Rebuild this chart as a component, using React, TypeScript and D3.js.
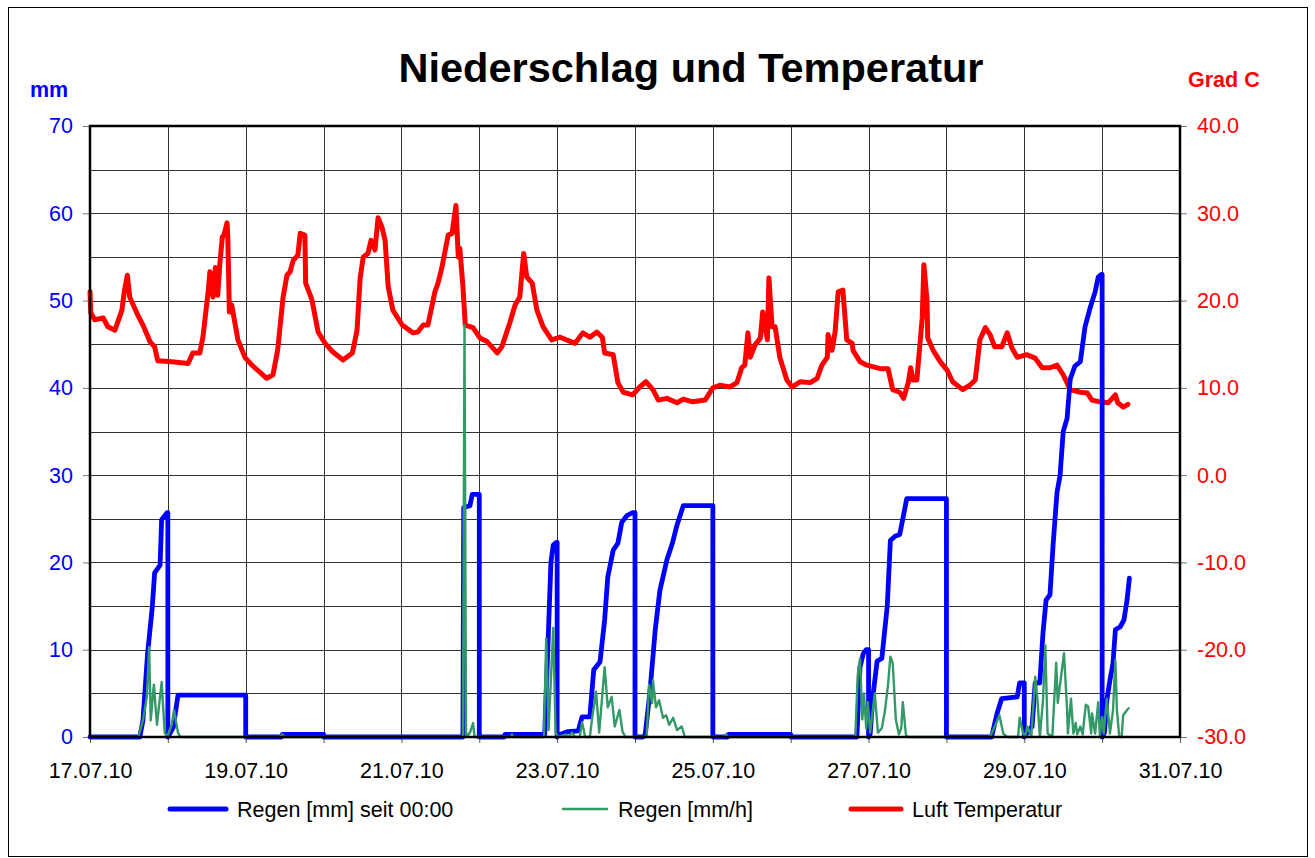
import * as d3 from "d3";
import * as React from "react";

// [Tage seit 17.07.10 00:00, Wert]
type Pt = [number, number];

const dayLabels = [
  "17.07.10", "18.07.10", "19.07.10", "20.07.10", "21.07.10", "22.07.10", "23.07.10", "24.07.10",
  "25.07.10", "26.07.10", "27.07.10", "28.07.10", "29.07.10", "30.07.10", "31.07.10",
];
const mmTicks = [0, 10, 20, 30, 40, 50, 60, 70];
const tempTicks = [-30, -20, -10, 0, 10, 20, 30, 40];

const seriesNames = ["Regen [mm] seit 00:00", "Regen [mm/h]", "Luft Temperatur"];
const seriesColors = ["#0000ff", "#339966", "#ff0000"];

// Regen [mm] seit 00:00 (Tagessumme, Reset um Mitternacht)
const regenSeit0: Pt[] = [
  [0, 0], [0.64, 0], [0.68, 1.9], [0.74, 9.6], [0.8, 14.9], [0.83, 18.8], [0.9, 19.7], [0.92, 24.9], [0.99, 25.7], [1.0, 25.7], [1.0, 0],
  [1.07, 1.1], [1.13, 4.8], [2.0, 4.8], [2.0, 0],
  [2.46, 0], [2.47, 0.3], [3.0, 0.3], [3.0, 0],
  [4.79, 0], [4.8, 26.3], [4.88, 26.5], [4.91, 27.8], [5.0, 27.8], [5.0, 0],
  [5.32, 0], [5.33, 0.3], [5.84, 0.3], [5.88, 10], [5.92, 20], [5.95, 22], [5.99, 22.3], [6.0, 22.3], [6.0, 0],
  [6.01, 0.2], [6.13, 0.6], [6.27, 0.7], [6.32, 2.3], [6.42, 2.3], [6.47, 7.7], [6.55, 8.6], [6.61, 13.4], [6.65, 18.3],
  [6.72, 21.4], [6.78, 22.2], [6.83, 24.6], [6.9, 25.4], [6.97, 25.7], [7.0, 25.7], [7.0, 0],
  [7.1, 0], [7.13, 0.2], [7.19, 5], [7.26, 12.3], [7.32, 16.8], [7.41, 20.3], [7.48, 22.2], [7.54, 24.3], [7.62, 26.5], [8.0, 26.5], [8.0, 0],
  [8.19, 0], [8.2, 0.3], [9.0, 0.3], [9.0, 0],
  [9.85, 0], [9.89, 8], [9.93, 9.5], [9.97, 10], [10.0, 10], [10.0, 0],
  [10.02, 0.3], [10.06, 5], [10.11, 8.7], [10.17, 9], [10.24, 15], [10.28, 22.5], [10.34, 23], [10.4, 23.2], [10.44, 25], [10.49, 27.3], [11.0, 27.3], [11.0, 0],
  [11.58, 0], [11.65, 2.7], [11.71, 4.4], [11.91, 4.6], [11.94, 6.2], [12.0, 6.2], [12.0, 0],
  [12.03, 0.4], [12.1, 1.2], [12.14, 6.2], [12.2, 6.2], [12.24, 11.9], [12.28, 15.7], [12.33, 16.3], [12.37, 22], [12.42, 28], [12.46, 30],
  [12.5, 35], [12.55, 36.5], [12.59, 41], [12.65, 42.5], [12.72, 43], [12.78, 47], [12.84, 49], [12.91, 51], [12.95, 52.7], [12.99, 53], [13.0, 53], [13.0, 0],
  [13.03, 0.5], [13.06, 4.2], [13.1, 6.5], [13.14, 8.5], [13.17, 12.3], [13.23, 12.6], [13.28, 13.4], [13.32, 15.7], [13.35, 18.2],
];

// Regen [mm/h]
const regenProStunde: Pt[] = [
  [0, 0], [0.62, 0], [0.68, 1.9], [0.73, 4.6], [0.76, 10.3], [0.78, 1.9], [0.82, 6], [0.86, 1.4], [0.92, 6.3], [0.96, 0.5], [0.99, 0],
  [1.05, 1.4], [1.08, 3.1], [1.13, 0.5], [1.16, 0],
  [2.43, 0], [2.47, 0.3], [2.5, 0],
  [4.79, 0], [4.81, 47.2], [4.83, 0], [4.86, 0.3], [4.88, 0.5], [4.92, 1.6], [4.94, 0],
  [5.4, 0], [5.42, 0.3], [5.44, 0],
  [5.83, 0], [5.86, 11.3], [5.89, 0.8], [5.95, 12.5], [5.98, 0.5], [6.01, 0],
  [6.12, 0.3], [6.15, 0], [6.19, 0.5], [6.23, 0], [6.29, 0], [6.32, 1.7], [6.36, 0], [6.42, 0], [6.45, 2.2], [6.5, 5.2], [6.54, 0.5],
  [6.61, 8.0], [6.65, 3.4], [6.7, 4.6], [6.74, 1.2], [6.8, 3.1], [6.84, 0.6], [6.88, 0],
  [7.15, 0], [7.18, 6.0], [7.22, 3.9], [7.23, 6.5], [7.27, 3.4], [7.31, 4.2], [7.36, 2.2], [7.4, 2.5], [7.44, 1.4], [7.49, 2.2],
  [7.54, 0.8], [7.6, 1.2], [7.64, 0],
  [8.15, 0], [8.17, 0.3], [8.2, 0],
  [9.83, 0], [9.86, 7], [9.89, 9], [9.92, 2], [9.94, 5], [9.97, 1], [9.99, 4], [10.02, 0.5], [10.04, 2], [10.08, 5], [10.12, 0.5],
  [10.17, 1], [10.21, 3], [10.25, 6], [10.28, 9.2], [10.31, 8.5], [10.35, 2], [10.39, 0.3], [10.42, 1], [10.44, 4], [10.48, 0.2], [10.51, 0],
  [11.56, 0], [11.62, 1.2], [11.68, 2.5], [11.73, 0.4], [11.78, 0], [11.92, 0], [11.94, 2.2], [11.98, 0.6], [12.01, 0], [12.04, 1.2],
  [12.09, 0], [12.14, 6.9], [12.17, 4.2], [12.2, 0], [12.24, 4.2], [12.27, 10.5], [12.3, 0.4], [12.36, 0], [12.41, 8.5], [12.43, 3.9],
  [12.51, 9.6], [12.55, 3.1], [12.56, 0.4], [12.6, 4.4], [12.63, 0.4], [12.66, 1.6], [12.68, 0.3], [12.72, 1.2], [12.75, 0.3],
  [12.79, 3.7], [12.82, 3.5], [12.86, 0.4], [12.87, 2.7], [12.91, 0.4], [12.95, 4.0], [12.97, 0.2], [13.0, 2.3], [13.02, 0.4],
  [13.06, 4.4], [13.1, 0.4], [13.14, 3.1], [13.17, 8.8], [13.19, 3.1], [13.22, 0], [13.25, 0], [13.27, 2.5], [13.32, 3.1], [13.34, 3.3],
];

// Luft Temperatur [Grad C]
const luftTemperatur: Pt[] = [
  [0, 21.0], [0.01, 18.6], [0.06, 17.8], [0.17, 18.0], [0.23, 17.0], [0.32, 16.6], [0.41, 18.9], [0.44, 21.0], [0.48, 22.9],
  [0.51, 20.4], [0.6, 18.6], [0.68, 17.2], [0.77, 15.3], [0.83, 14.7], [0.87, 13.1], [1.05, 13.0], [1.26, 12.8], [1.32, 14.0],
  [1.41, 14.0], [1.45, 15.8], [1.52, 21.2], [1.54, 23.3], [1.58, 20.4], [1.61, 23.8], [1.64, 20.6], [1.67, 24.4], [1.7, 27.3],
  [1.72, 27.5], [1.76, 28.9], [1.77, 27.3], [1.79, 18.7], [1.82, 19.5], [1.9, 15.5], [1.99, 13.5], [2.08, 12.6], [2.27, 11.1],
  [2.35, 11.5], [2.41, 14.3], [2.48, 20.4], [2.53, 22.9], [2.57, 23.3], [2.61, 24.6], [2.67, 25.2], [2.7, 27.7], [2.76, 27.5],
  [2.77, 22.0], [2.85, 20.1], [2.93, 16.4], [3.02, 15.1], [3.12, 14.1], [3.25, 13.2], [3.37, 14.0], [3.43, 16.6], [3.47, 22.6],
  [3.51, 25.0], [3.57, 25.4], [3.61, 26.9], [3.66, 25.8], [3.7, 29.5], [3.75, 28.4], [3.79, 26.9], [3.83, 21.6], [3.89, 18.9],
  [4.01, 17.2], [4.15, 16.3], [4.21, 16.4], [4.28, 17.2], [4.34, 17.2], [4.39, 19.3], [4.43, 21.0], [4.47, 22.0], [4.52, 23.8],
  [4.6, 27.5], [4.65, 27.7], [4.7, 30.9], [4.73, 25.0], [4.75, 26.0], [4.79, 21.6], [4.82, 17.2], [4.92, 16.9], [5.01, 15.7],
  [5.1, 15.3], [5.23, 14.0], [5.29, 14.7], [5.39, 17.4], [5.46, 19.5], [5.52, 20.4], [5.57, 25.4], [5.61, 22.7], [5.68, 22.0],
  [5.74, 18.9], [5.82, 17.0], [5.93, 15.5], [6.04, 15.8], [6.23, 15.1], [6.33, 16.3], [6.42, 15.8], [6.51, 16.4], [6.58, 15.8],
  [6.61, 14.0], [6.72, 13.8], [6.78, 10.6], [6.85, 9.5], [6.97, 9.2], [7.06, 10.1], [7.14, 10.7], [7.23, 9.8], [7.3, 8.6],
  [7.41, 8.8], [7.54, 8.3], [7.62, 8.7], [7.74, 8.4], [7.9, 8.6], [8.0, 10.0], [8.09, 10.3], [8.22, 10.1], [8.31, 10.6],
  [8.37, 12.3], [8.41, 12.6], [8.45, 16.3], [8.48, 13.5], [8.54, 14.9], [8.61, 15.7], [8.64, 18.7], [8.7, 15.5], [8.72, 22.6],
  [8.76, 17.0], [8.8, 17.0], [8.86, 13.5], [8.95, 10.9], [9.02, 10.1], [9.12, 10.7], [9.25, 10.6], [9.34, 11.1], [9.4, 12.6],
  [9.47, 13.5], [9.48, 16.1], [9.53, 14.3], [9.57, 16.4], [9.61, 21.0], [9.67, 21.2], [9.72, 15.5], [9.79, 15.1], [9.8, 14.3],
  [9.89, 13.0], [9.98, 12.6], [10.15, 12.2], [10.25, 12.2], [10.31, 9.8], [10.4, 9.5], [10.45, 8.8], [10.51, 10.6], [10.54, 12.3],
  [10.57, 10.9], [10.62, 10.9], [10.69, 18.1], [10.71, 24.1], [10.75, 20.1], [10.76, 15.7], [10.83, 14.3], [10.92, 13.0],
  [11.01, 12.0], [11.08, 10.7], [11.21, 9.8], [11.3, 10.3], [11.37, 10.9], [11.43, 15.5], [11.5, 16.9], [11.56, 16.1],
  [11.62, 14.7], [11.71, 14.7], [11.78, 16.3], [11.84, 14.6], [11.91, 13.5], [12.03, 13.8], [12.14, 13.4], [12.23, 12.3],
  [12.33, 12.3], [12.42, 12.6], [12.5, 11.5], [12.59, 9.8], [12.72, 9.5], [12.81, 9.4], [12.87, 8.6], [12.97, 8.4], [13.08, 8.3],
  [13.17, 9.2], [13.2, 8.3], [13.27, 7.8], [13.33, 8.1],
];

const FONT = '"Liberation Sans", Arial, sans-serif';

function drawChart(el: SVGSVGElement) {
  const svg = d3.select(el);
  svg.selectAll("*").remove();

  const left = 90;
  const right = 1180;
  const top = 126;
  const bottom = 737;

  const parseDay = d3.timeParse("%d.%m.%y");
  const days = dayLabels.map((s) => parseDay(s)!);
  const start = days[0].getTime();
  const toDate = (d: number) => new Date(start + d * 86400000);

  const x = d3.scaleTime().domain([days[0], days[days.length - 1]]).range([left, right]);
  const yMm = d3.scaleLinear().domain([0, 70]).range([bottom, top]);
  const yTemp = d3.scaleLinear().domain([-30, 40]).range([bottom, top]);

  // outer frame
  svg
    .append("rect")
    .attr("x", 8.5)
    .attr("y", 7.5)
    .attr("width", 1299)
    .attr("height", 849)
    .attr("fill", "#fff")
    .attr("stroke", "#000")
    .attr("stroke-width", 1);

  // grid
  const grid = svg.append("g").attr("stroke", "#333").attr("stroke-width", 1);
  grid
    .selectAll("line.h")
    .data(d3.range(5, 70, 5))
    .enter()
    .append("line")
    .attr("x1", left)
    .attr("x2", right)
    .attr("y1", (d) => Math.round(yMm(d)) + 0.5)
    .attr("y2", (d) => Math.round(yMm(d)) + 0.5);
  grid
    .selectAll("line.v")
    .data(days.slice(1, -1))
    .enter()
    .append("line")
    .attr("x1", (d) => Math.round(x(d)) + 0.5)
    .attr("x2", (d) => Math.round(x(d)) + 0.5)
    .attr("y1", top)
    .attr("y2", bottom);

  // left axis (mm)
  const gl = svg
    .append("g")
    .attr("transform", `translate(${left},0)`)
    .call(d3.axisLeft(yMm).tickValues(mmTicks).tickSize(7).tickPadding(10).tickFormat((d) => String(d)));
  gl.select(".domain").remove();
  gl.selectAll(".tick line").attr("stroke", "#777");
  gl.selectAll("text").attr("fill", "#0000ff").attr("font-size", 21.5).attr("font-family", FONT);

  // right axis (Grad C)
  const gr = svg
    .append("g")
    .attr("transform", `translate(${right},0)`)
    .call(
      d3.axisRight(yTemp).tickValues(tempTicks).tickSize(7).tickPadding(10).tickFormat((d) => (+d).toFixed(1))
    );
  gr.select(".domain").remove();
  gr.selectAll(".tick line").attr("x1", -8).attr("stroke", "#777");
  gr.selectAll("text").attr("fill", "#ff0000").attr("font-size", 21.5).attr("font-family", FONT);

  // bottom axis (dates)
  const gb = svg
    .append("g")
    .attr("transform", `translate(0,${bottom})`)
    .call(
      d3
        .axisBottom(x)
        .tickValues(days)
        .tickSize(6)
        .tickPadding(20)
        .tickFormat((d, i) => (i % 2 === 0 ? dayLabels[i] : ""))
    );
  gb.select(".domain").remove();
  gb.selectAll(".tick line").attr("stroke", "#555");
  gb.selectAll("text").attr("fill", "#000").attr("font-size", 21.5).attr("font-family", FONT);

  // series
  const lineMm = d3
    .line<Pt>()
    .x((d) => x(toDate(d[0])))
    .y((d) => yMm(d[1]));
  const lineTemp = d3
    .line<Pt>()
    .x((d) => x(toDate(d[0])))
    .y((d) => yTemp(d[1]));

  const lines = svg.append("g").attr("fill", "none").attr("stroke-linejoin", "round").attr("stroke-linecap", "round");
  lines
    .append("path")
    .attr("d", lineTemp(luftTemperatur))
    .attr("stroke", seriesColors[2])
    .attr("stroke-width", 5);
  lines
    .append("path")
    .attr("d", lineMm(regenSeit0))
    .attr("stroke", seriesColors[0])
    .attr("stroke-width", 4.8);
  lines
    .append("path")
    .attr("d", lineMm(regenProStunde))
    .attr("stroke", seriesColors[1])
    .attr("stroke-width", 2.4);

  // plot frame
  svg
    .append("rect")
    .attr("x", left)
    .attr("y", top)
    .attr("width", right - left)
    .attr("height", bottom - top)
    .attr("fill", "none")
    .attr("stroke", "#000")
    .attr("stroke-width", 2.5);

  // titles
  svg
    .append("text")
    .attr("x", 691)
    .attr("y", 82)
    .attr("text-anchor", "middle")
    .attr("font-family", FONT)
    .attr("font-weight", "bold")
    .attr("font-size", 41.5)
    .text("Niederschlag und Temperatur");
  svg
    .append("text")
    .attr("x", 30)
    .attr("y", 97)
    .attr("font-family", FONT)
    .attr("font-weight", "bold")
    .attr("font-size", 21.5)
    .attr("fill", "#0000ff")
    .text("mm");
  svg
    .append("text")
    .attr("x", 1188)
    .attr("y", 87)
    .attr("font-family", FONT)
    .attr("font-weight", "bold")
    .attr("font-size", 21.5)
    .attr("fill", "#ff0000")
    .text("Grad C");

  // legend
  const legendX = [170, 563, 851];
  const legendLen = [56, 44, 50];
  const legendW = [5, 2.4, 5];
  const lg = svg
    .append("g")
    .selectAll("g")
    .data(seriesNames)
    .enter()
    .append("g")
    .attr("transform", (_d, i) => `translate(${legendX[i]},809)`);
  lg.append("line")
    .attr("x1", 0)
    .attr("x2", (_d, i) => legendLen[i])
    .attr("stroke", (_d, i) => seriesColors[i])
    .attr("stroke-width", (_d, i) => legendW[i])
    .attr("stroke-linecap", "round");
  lg.append("text")
    .attr("x", (_d, i) => legendLen[i] + 11)
    .attr("y", 8)
    .attr("font-family", FONT)
    .attr("font-size", 21.5)
    .text((d) => d);
}

export default function App() {
  const ref = React.useRef<SVGSVGElement>(null);

  React.useEffect(() => {
    if (ref.current) drawChart(ref.current);
  }, []);

  return (
    <svg
      ref={ref}
      width={1315}
      height={858}
      style={{ position: "absolute", left: 0, top: 0, display: "block", background: "#fff" }}
    />
  );
}
